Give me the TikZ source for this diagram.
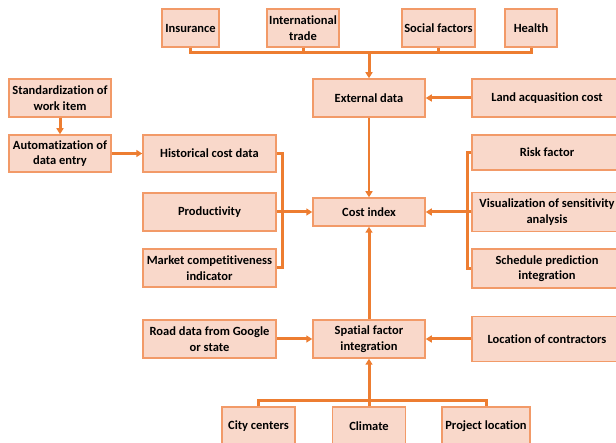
\documentclass[tikz,border=0pt]{standalone}
\usepackage{fontspec}
\setmainfont[Ligatures=NoCommon]{Carlito}
\usetikzlibrary{arrows.meta}
\definecolor{trait}{HTML}{ED7D31}
\definecolor{bord}{HTML}{F29A68}
\definecolor{fond}{HTML}{F9D8CA}

\begin{document}
\begin{tikzpicture}[x=1pt, y=-1pt,
    boite/.style={draw=bord, fill=fond, line width=1.5pt, align=center,
      inner sep=1pt, font=\fontsize{12.5}{15.5}\selectfont\bfseries},
    lien/.style={draw=trait, line width=3pt},
    fleche/.style={lien, -{Triangle[length=6pt,width=7pt]}}]
  % cadre de l'image
  \useasboundingbox (0,0) rectangle (616,443);
  \clip (0,0) rectangle (616,443);
  % facteurs externes (haut)
  \node[boite, minimum width=57pt, minimum height=38pt] (ins) at (190.5,28) {Insurance};
  \node[boite, minimum width=72pt, minimum height=38pt] (trade) at (303,28) {International\\trade};
  \node[boite, minimum width=73pt, minimum height=38pt] (social) at (438.5,28) {Social factors};
  \node[boite, minimum width=52pt, minimum height=38pt] (health) at (531,28) {Health};
  \node[boite, minimum width=112pt, minimum height=38pt] (ext) at (369,98) {External data};
  \node[boite, minimum width=150pt, minimum height=38pt] (land) at (547,98) {Land acquasition cost};
  % saisie des données (gauche)
  \node[boite, minimum width=102pt, minimum height=38pt] (std) at (60,98) {Standardization of\\work item};
  \node[boite, minimum width=102pt, minimum height=37pt] (auto) at (60,153.5) {Automatization of\\data entry};
  \node[boite, minimum width=133pt, minimum height=37pt] (hist) at (209.5,153.5) {Historical cost data};
  \node[boite, minimum width=133pt, minimum height=38pt] (prod) at (209.5,212) {Productivity};
  \node[boite, minimum width=133pt, minimum height=38pt] (market) at (209.5,268) {Market competitiveness\\indicator};
  % indice central
  \node[boite, minimum width=112pt, minimum height=28pt] (cost) at (369,212) {Cost index};
  % sorties (droite)
  \node[boite, minimum width=150pt, minimum height=35pt] (risk) at (547,152.5) {Risk factor};
  \node[boite, minimum width=150pt, minimum height=39pt] (visu) at (547,212) {Visualization of sensitivity\\analysis};
  \node[boite, minimum width=150pt, minimum height=39pt] (sched) at (547,268.5) {Schedule prediction\\integration};
  % facteurs spatiaux
  \node[boite, minimum width=133pt, minimum height=38pt] (road) at (209.5,339) {Road data from Google\\or state};
  \node[boite, minimum width=112pt, minimum height=38pt] (spatial) at (369,339) {Spatial factor\\integration};
  \node[boite, minimum width=150pt, minimum height=45pt] (loc) at (547,339) {Location of contractors};
  \node[boite, minimum width=73pt, minimum height=38pt] (city) at (258.5,426) {City centers};
  \node[boite, minimum width=73pt, minimum height=38pt] (climate) at (369,426) {Climate};
  \node[boite, minimum width=88pt, minimum height=38pt] (proj) at (486,426) {Project location};
  % barres de regroupement
  \coordinate (hautbus) at (369,53);
  \coordinate (basbus) at (369,401);
  \coordinate (gbar) at (282,212);
  \coordinate (dbar) at (467,212);
  % liaisons du haut
  \draw[lien] (ins.south) |- (hautbus) -| (health.south);
  \draw[lien] (trade.south) -- (trade.south |- hautbus);
  \draw[lien] (social.south) -- (social.south |- hautbus);
  \draw[fleche] (hautbus) -- (ext.north);
  \draw[fleche] (land.west) -- (ext.east);
  \draw[fleche, line width=2pt] (ext.south) -- (cost.north);
  % liaisons de gauche
  \draw[fleche] (std.south) -- (auto.north);
  \draw[fleche] (auto.east) -- (hist.west);
  \draw[lien] (hist.east) -| (gbar) |- (market.east);
  \draw[fleche] (prod.east) -- (cost.west);
  % liaisons de droite
  \draw[lien] (risk.west) -| (dbar) |- (sched.west);
  \draw[fleche] (visu.west) -- (cost.east);
  % liaisons du bas
  \draw[fleche] (spatial.north) -- (cost.south);
  \draw[fleche] (road.east) -- (spatial.west);
  \draw[fleche] (loc.west) -- (spatial.east);
  \draw[lien] (city.north) |- (basbus) -| (proj.north);
  \draw[fleche] (climate.north) -- (spatial.south);
\end{tikzpicture}
\end{document}
